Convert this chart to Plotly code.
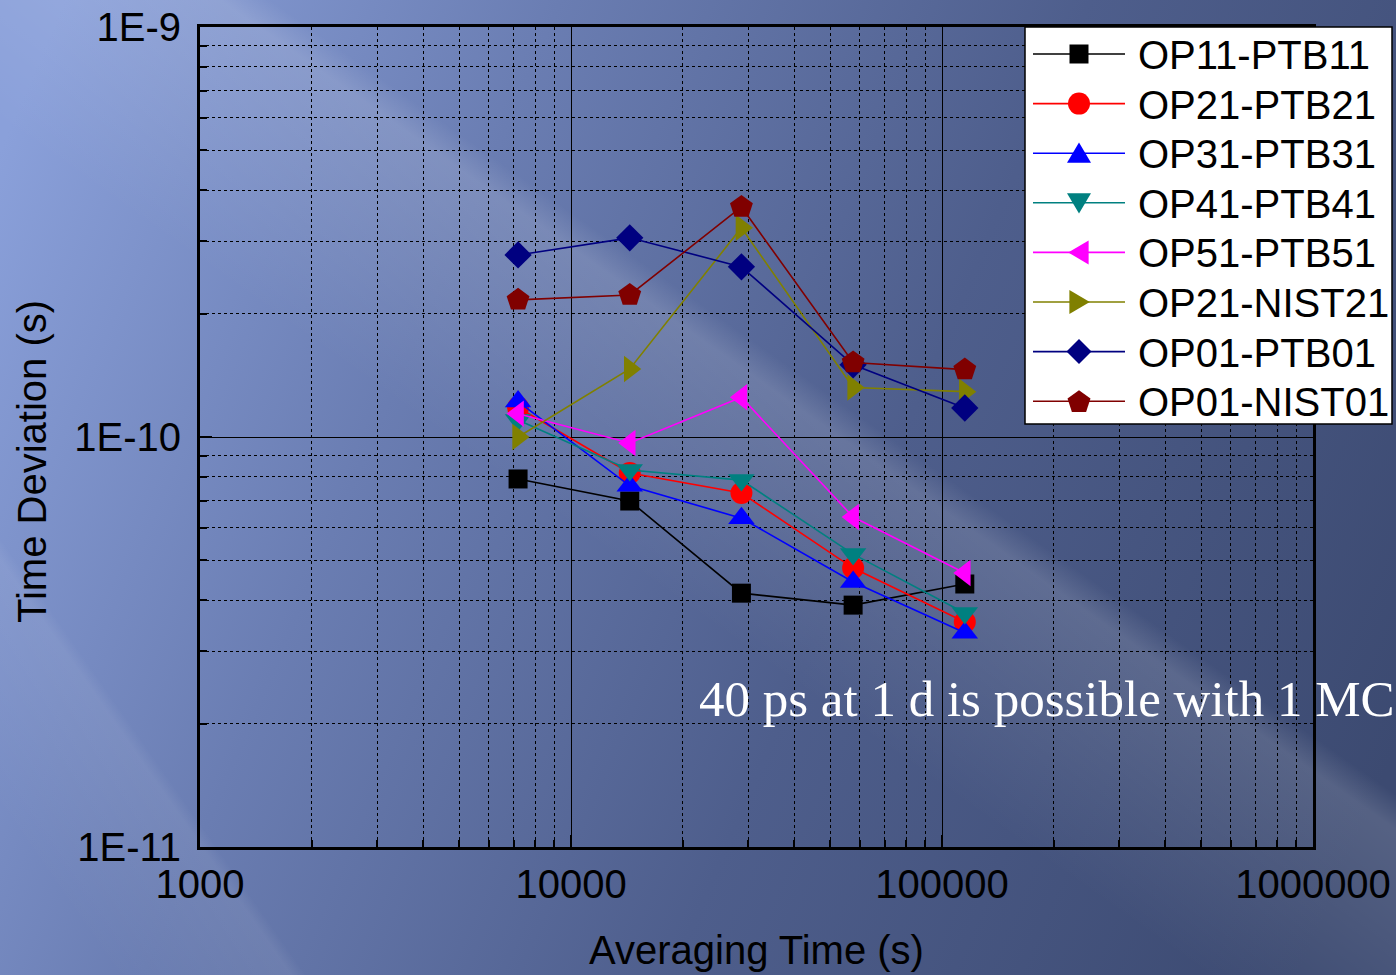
import base64
import math
import plotly.graph_objects as go

# ---------------- data ----------------
tau = [7200, 14400, 28800, 57600, 115200]

series_names = ["OP11-PTB11", "OP21-PTB21", "OP31-PTB31", "OP41-PTB41",
                "OP51-PTB51", "OP21-NIST21", "OP01-PTB01", "OP01-NIST01"]

op11_ptb11 = [7.90e-11, 6.98e-11, 4.16e-11, 3.89e-11, 4.38e-11]
op21_ptb21 = [1.18e-10, 8.17e-11, 7.30e-11, 4.79e-11, 3.54e-11]
op31_ptb31 = [1.22e-10, 7.60e-11, 6.34e-11, 4.43e-11, 3.33e-11]
op41_ptb41 = [1.10e-10, 8.31e-11, 7.85e-11, 5.18e-11, 3.72e-11]
op51_ptb51 = [1.14e-10, 9.67e-11, 1.25e-10, 6.38e-11, 4.66e-11]
op21_nist21 = [1.00e-10, 1.465e-10, 3.24e-10, 1.32e-10, 1.29e-10]
op01_ptb01 = [2.78e-10, 3.06e-10, 2.60e-10, 1.50e-10, 1.177e-10]
op01_nist01 = [2.16e-10, 2.22e-10, 3.64e-10, 1.52e-10, 1.46e-10]

series_values = [op11_ptb11, op21_ptb21, op31_ptb31, op41_ptb41,
                 op51_ptb51, op21_nist21, op01_ptb01, op01_nist01]

x_tick_vals = [1000, 10000, 100000, 1000000]
x_tick_text = ["1000", "10000", "100000", "1000000"]
y_tick_vals = [1e-11, 1e-10, 1e-9]
y_tick_text = ["1E-11", "1E-10", "1E-9"]

x_title = "Averaging Time (s)"
y_title = "Time Deviation (s)"
note_text = "40 ps at 1 d is possible with 1 MC"

# ---------------- styles ----------------
colors = ["#000000", "#FF0000", "#0000FF", "#008080",
          "#FF00FF", "#808000", "#000080", "#800000"]
symbols = ["square", "circle", "triangle-up", "triangle-down",
           "triangle-left", "triangle-right", "diamond", "pentagon"]
sizes = [19, 22, 23, 23, 23, 23, 21, 24]

W, H = 1396, 975
L, R, T, B = 200, 83, 27, 128
FONT = "Liberation Sans, Arial, sans-serif"
FS = 40

x_minor = [k * 10 ** e for e in (3, 4, 5) for k in range(2, 10)]
y_minor = [k * 10.0 ** e for e in (-11, -10) for k in range(2, 10)]

pw = W - L - R
ph = H - T - B


def px_x(p):
    return (p - L) / pw


def px_y(p):
    return (H - B - p) / ph


# background (gradient + light diagonal streak) as an inline SVG image
svg = f"""<svg xmlns='http://www.w3.org/2000/svg' width='{W}' height='{H}' viewBox='0 0 {W} {H}' preserveAspectRatio='none'>
<defs>
<linearGradient id='g' gradientUnits='userSpaceOnUse' x1='0' y1='150' x2='1396' y2='750'>
<stop offset='0' stop-color='#8AA0DA'/>
<stop offset='0.3' stop-color='#6A7DB2'/>
<stop offset='0.62' stop-color='#4E5E8C'/>
<stop offset='1' stop-color='#3C4A71'/>
</linearGradient>
<linearGradient id='s1' gradientUnits='userSpaceOnUse' x1='560' y1='520' x2='800' y2='180'>
<stop offset='0' stop-color='#FFFFFF' stop-opacity='0'/>
<stop offset='0.55' stop-color='#FFFFFF' stop-opacity='0.13'/>
<stop offset='0.62' stop-color='#FFFFFF' stop-opacity='0.0'/>
<stop offset='1' stop-color='#FFFFFF' stop-opacity='0'/>
</linearGradient>
<linearGradient id='s2' gradientUnits='userSpaceOnUse' x1='60' y1='900' x2='260' y2='760'>
<stop offset='0' stop-color='#FFFFFF' stop-opacity='0'/>
<stop offset='0.6' stop-color='#FFFFFF' stop-opacity='0.07'/>
<stop offset='0.65' stop-color='#FFFFFF' stop-opacity='0'/>
<stop offset='1' stop-color='#FFFFFF' stop-opacity='0'/>
</linearGradient>
</defs>
<rect x='0' y='0' width='{W}' height='{H}' fill='url(#g)'/>
<rect x='0' y='0' width='{W}' height='{H}' fill='url(#s1)'/>
<rect x='0' y='0' width='{W}' height='{H}' fill='url(#s2)'/>
</svg>"""
bg_uri = "data:image/svg+xml;base64," + base64.b64encode(svg.encode()).decode()

fig = go.Figure()
for name, vals, c, s, sz in zip(series_names, series_values, colors, symbols, sizes):
    fig.add_trace(go.Scatter(
        x=tau, y=vals, name=name, mode="lines+markers",
        line=dict(color=c, width=1.6),
        marker=dict(symbol=s, size=sz, color=c, line=dict(width=0)),
        showlegend=False,
    ))

axis_common = dict(
    showline=True, linecolor="black", linewidth=3, mirror=True,
    ticks="inside", ticklen=12, tickwidth=2, tickcolor="black",
    showgrid=True, gridcolor="black", gridwidth=1,
    zeroline=False, tickmode="array",
    tickfont=dict(family=FONT, size=FS, color="black"),
)
minor_common = dict(tickmode="array", ticks="inside", ticklen=7,
                    tickwidth=2, tickcolor="black", showgrid=True,
                    gridcolor="black", gridwidth=1, griddash="dot")

fig.update_xaxes(
    type="log", range=[3, 6], tickvals=x_tick_vals, ticktext=x_tick_text,
    ticklabelstandoff=0, minor=dict(tickvals=x_minor, **minor_common),
    **axis_common,
)
fig.update_yaxes(
    type="log", range=[-11, -9], tickvals=y_tick_vals, ticktext=y_tick_text,
    ticklabelstandoff=8, minor=dict(tickvals=y_minor, **minor_common),
    **axis_common,
)

# ---------------- hand-built legend (box, line samples, glyphs, labels) ----------------
LEG_BOX = (1025, 27, 1392, 424)        # left, top, right, bottom in px
LEG_ROW0, LEG_ROW_STEP = 54, 49.6
LEG_LINE = (1033, 1125)
LEG_MARK_X = 1079
LEG_TEXT_X = 1136
LEG_SIZES = [19, 22, 24, 24, 24, 24, 25, 23]

shapes = [dict(type="rect", xref="paper", yref="paper", layer="above",
               x0=px_x(LEG_BOX[0]), x1=px_x(LEG_BOX[2]),
               y0=px_y(LEG_BOX[3]), y1=px_y(LEG_BOX[1]),
               fillcolor="white", line=dict(color="black", width=1.5))]
annotations = []


def glyph_path(sym, cx, cy, s):
    h = s / 2.0
    if sym == "square":
        pts = [(cx - h, cy - h), (cx + h, cy - h), (cx + h, cy + h), (cx - h, cy + h)]
    elif sym == "triangle-up":
        pts = [(cx - h, cy + 0.4 * s), (cx + h, cy + 0.4 * s), (cx, cy - 0.45 * s)]
    elif sym == "triangle-down":
        pts = [(cx - h, cy - 0.4 * s), (cx + h, cy - 0.4 * s), (cx, cy + 0.45 * s)]
    elif sym == "triangle-left":
        pts = [(cx + 0.4 * s, cy - h), (cx + 0.4 * s, cy + h), (cx - 0.45 * s, cy)]
    elif sym == "triangle-right":
        pts = [(cx - 0.4 * s, cy - h), (cx - 0.4 * s, cy + h), (cx + 0.45 * s, cy)]
    elif sym == "diamond":
        pts = [(cx, cy - h), (cx + h, cy), (cx, cy + h), (cx - h, cy)]
    else:  # pentagon
        r = h * 1.05
        pts = [(cx + r * math.cos(math.radians(-90 + 72 * k)),
                cy + r * math.sin(math.radians(-90 + 72 * k)) + 1) for k in range(5)]
    return "M " + " L ".join(f"{px_x(x):.5f},{px_y(y):.5f}" for x, y in pts) + " Z"


for i, (name, c, s) in enumerate(zip(series_names, colors, symbols)):
    cy = LEG_ROW0 + i * LEG_ROW_STEP
    shapes.append(dict(type="line", xref="paper", yref="paper", layer="above",
                       x0=px_x(LEG_LINE[0]), x1=px_x(LEG_LINE[1]),
                       y0=px_y(cy), y1=px_y(cy), line=dict(color=c, width=1.6)))
    gs = LEG_SIZES[i]
    if s == "circle":
        shapes.append(dict(type="circle", xref="paper", yref="paper", layer="above",
                           x0=px_x(LEG_MARK_X - gs / 2), x1=px_x(LEG_MARK_X + gs / 2),
                           y0=px_y(cy + gs / 2), y1=px_y(cy - gs / 2),
                           fillcolor=c, line=dict(width=0)))
    else:
        shapes.append(dict(type="path", xref="paper", yref="paper", layer="above",
                           path=glyph_path(s, LEG_MARK_X, cy, gs),
                           fillcolor=c, line=dict(width=0)))
    annotations.append(dict(text=name, xref="paper", yref="paper",
                            x=px_x(LEG_TEXT_X), y=px_y(cy + 1),
                            xanchor="left", yanchor="middle", showarrow=False,
                            font=dict(family=FONT, size=FS, color="black")))

annotations += [
    dict(text=x_title, xref="paper", yref="paper", x=px_x(756), y=px_y(950),
         xanchor="center", yanchor="middle", showarrow=False,
         font=dict(family=FONT, size=FS, color="black")),
    dict(text=y_title, xref="paper", yref="paper", x=px_x(32), y=px_y(462),
         xanchor="center", yanchor="middle", showarrow=False, textangle=-90,
         font=dict(family=FONT, size=FS, color="black")),
    dict(text=note_text, xref="paper", yref="paper", x=px_x(697), y=px_y(699),
         xanchor="left", yanchor="middle", showarrow=False,
         font=dict(family="Liberation Serif, serif", size=51, color="white")),
]

fig.update_layout(
    width=W, height=H,
    margin=dict(l=L, r=R, t=T, b=B, pad=0, autoexpand=False),
    paper_bgcolor="#56689A",
    plot_bgcolor="rgba(0,0,0,0)",
    font=dict(family=FONT, size=FS, color="black"),
    showlegend=False,
    images=[dict(
        source=bg_uri, xref="paper", yref="paper",
        x=px_x(0), y=px_y(0), sizex=W / pw, sizey=H / ph,
        xanchor="left", yanchor="top", sizing="stretch", layer="below",
    )],
    shapes=shapes,
    annotations=annotations,
)

fig.write_html("out.html")
